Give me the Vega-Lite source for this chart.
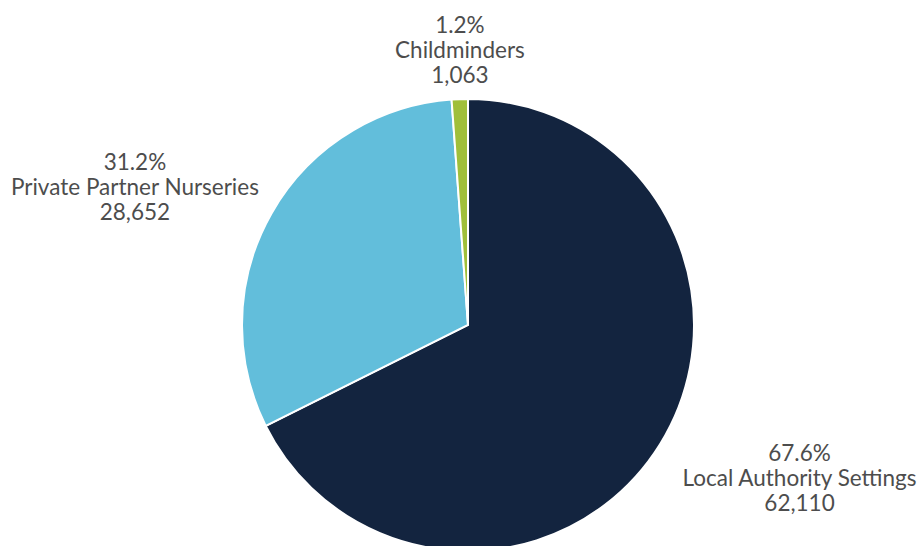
{
  "$schema": "https://vega.github.io/schema/vega-lite/v6.json",
  "width": 908,
  "height": 442,
  "autosize": {"type": "none"},
  "padding": {"left": 14, "top": 104, "right": 0, "bottom": 0},
  "background": "white",
  "view": {"stroke": null},
  "data": {
    "values": [
      {"category": "Local Authority Settings", "value": 62110, "pct": "67.6%", "order": 1, "label": "67.6%\nLocal Authority Settings\n62,110"},
      {"category": "Private Partner Nurseries", "value": 28652, "pct": "31.2%", "order": 2, "label": "31.2%\nPrivate Partner Nurseries\n28,652"},
      {"category": "Childminders", "value": 1063, "pct": "1.2%", "order": 3, "label": "1.2%\nChildminders\n1,063"}
    ]
  },
  "transform": [
    {"stack": "value", "groupby": [], "sort": [{"field": "order", "order": "ascending"}], "as": ["v0", "v1"]},
    {"calculate": "(datum.v0 + datum.v1) / 2", "as": "mid"}
  ],
  "layer": [
    {
      "mark": {"type": "arc", "outerRadius": 226, "stroke": "white", "strokeWidth": 2},
      "encoding": {
        "theta": {"field": "v0", "type": "quantitative", "scale": {"domain": [0, 91825], "range": [0, 6.283185307]}},
        "theta2": {"field": "v1"},
        "color": {
          "field": "category", "type": "nominal",
          "scale": {"domain": ["Local Authority Settings", "Private Partner Nurseries", "Childminders"], "range": ["#13243f", "#62bedb", "#a0bf3a"]},
          "legend": null
        }
      }
    },
    {
      "transform": [{"filter": "datum.order == 1"}],
      "mark": {"type": "text", "radius": 364, "dx": 22, "dy": -63, "lineBreak": "\n", "lineHeight": 25, "fontSize": 22.5, "font": "Lato", "color": "#4d4d4d", "align": "center", "baseline": "middle"},
      "encoding": {
        "theta": {"field": "mid", "type": "quantitative"},
        "text": {"field": "label"}
      }
    },
    {
      "transform": [{"filter": "datum.order == 2"}],
      "mark": {"type": "text", "radius": 358, "dx": -22, "dy": 15, "lineBreak": "\n", "lineHeight": 25, "fontSize": 22.5, "font": "Lato", "color": "#4d4d4d", "align": "center", "baseline": "middle"},
      "encoding": {
        "theta": {"field": "mid", "type": "quantitative"},
        "text": {"field": "label"}
      }
    },
    {
      "transform": [{"filter": "datum.order == 3"}],
      "mark": {"type": "text", "radius": 278, "dx": 2, "dy": -21, "lineBreak": "\n", "lineHeight": 25, "fontSize": 22.5, "font": "Lato", "color": "#4d4d4d", "align": "center", "baseline": "middle"},
      "encoding": {
        "theta": {"field": "mid", "type": "quantitative"},
        "text": {"field": "label"}
      }
    }
  ]
}
